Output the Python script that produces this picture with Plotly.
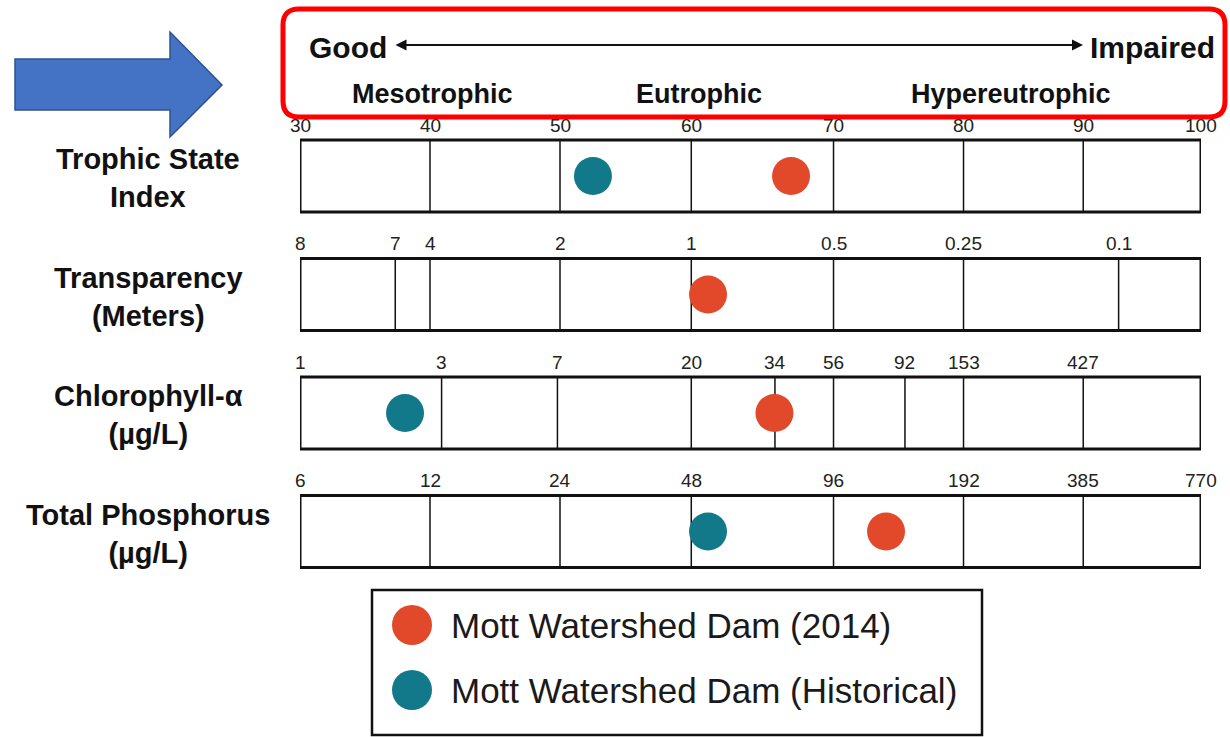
import plotly.graph_objects as go

W, H = 1230, 737

# ---------------- data ----------------
row_labels = ["Trophic State<br>Index", "Transparency<br>(Meters)",
              "Chlorophyll-α<br>(µg/L)", "Total Phosphorus<br>(µg/L)"]

tsi_labels = ["30", "40", "50", "60", "70", "80", "90", "100"]
tsi_pos = [30, 40.1, 50.2, 60.4, 71.45, 81.55, 90.85, 100]

secchi_labels = ["8", "7", "4", "2", "1", "0.5", "0.25", "0.1"]
secchi_pos = [30, 37.4, 40.1, 50.2, 60.4, 71.45, 81.55, 93.6]

chl_labels = ["1", "3", "7", "20", "34", "56", "92", "153", "427"]
chl_pos = [30, 41.0, 50.0, 60.4, 66.9, 71.45, 77.0, 81.55, 90.85]

tp_labels = ["6", "12", "24", "48", "96", "192", "385", "770"]
tp_pos = [30, 40.1, 50.2, 60.4, 71.45, 81.55, 90.85, 100]

scale_labels = [tsi_labels, secchi_labels, chl_labels, tp_labels]
scale_pos = [tsi_pos, secchi_pos, chl_pos, tp_pos]

# dot positions on the TSI-equivalent scale
mott_2014 = [68.15, 61.7, 66.86, 75.53]
mott_hist = [52.76, None, 38.16, 61.7]

series_names = ["Mott Watershed Dam (2014)", "Mott Watershed Dam (Historical)"]
colors = ["#E2492A", "#12798A"]

category_labels = ["Mesotrophic", "Eutrophic", "Hypereutrophic"]

# ---------------- helpers ----------------
def px(x, y):
    return x / W, 1 - y / H

FONT = "Liberation Sans, Arial, sans-serif"
row_y = list(range(len(row_labels)))
HALF = 0.304

fig = go.Figure()

for vals, name, col in [(mott_2014, series_names[0], colors[0]),
                        (mott_hist, series_names[1], colors[1])]:
    fig.add_trace(go.Scatter(
        x=vals, y=row_y, mode="markers", name=name, showlegend=False,
        marker=dict(size=38, color=col, line=dict(width=0)),
        hoverinfo="x+y+name"))

shapes = []
annotations = []

# strips
for i, (labs, pos) in enumerate(zip(scale_labels, scale_pos)):
    for p in pos:
        if 30 < p < 100:
            shapes.append(dict(type="line", xref="x", yref="y", x0=p, x1=p,
                               y0=i - HALF, y1=i + HALF,
                               line=dict(color="#111", width=1.5), layer="below"))
    shapes.append(dict(type="rect", xref="x", yref="y", x0=30, x1=100,
                       y0=i - HALF, y1=i + HALF,
                       line=dict(color="#111", width=3), layer="below"))
    for lab, p in zip(labs, pos):
        annotations.append(dict(x=p, y=i - HALF, xref="x", yref="y", text=lab,
                                showarrow=False, xanchor="center", yanchor="bottom",
                                yshift=2,
                                font=dict(family=FONT, size=19, color="#222")))
    annotations.append(dict(x=148 / W, y=i, xref="paper", yref="y",
                            text="<b>" + row_labels[i] + "</b>", showarrow=False,
                            xanchor="center", yanchor="middle",
                            yshift=-2, align="center",
                            font=dict(family=FONT, size=29, color="#111")))

# red rounded rectangle
x0, y0, x1, y1, r = 283, 9, 1225, 117, 16
def P(x, y):
    a, b = px(x, y)
    return f"{a:.5f},{b:.5f}"
path = (f"M {P(x0 + r, y0)} L {P(x1 - r, y0)} Q {P(x1, y0)} {P(x1, y0 + r)} "
        f"L {P(x1, y1 - r)} Q {P(x1, y1)} {P(x1 - r, y1)} "
        f"L {P(x0 + r, y1)} Q {P(x0, y1)} {P(x0, y1 - r)} "
        f"L {P(x0, y0 + r)} Q {P(x0, y0)} {P(x0 + r, y0)} Z")
shapes.append(dict(type="path", xref="paper", yref="paper", path=path,
                   line=dict(color="#FF0000", width=5), fillcolor="rgba(0,0,0,0)"))

# blue block arrow
pts = [(15, 59), (170, 59), (170, 32), (222, 85), (170, 137), (170, 110), (15, 110)]
apath = "M " + " L ".join(P(a, b) for a, b in pts) + " Z"
shapes.append(dict(type="path", xref="paper", yref="paper", path=apath,
                   fillcolor="#4472C4", line=dict(color="#2F528F", width=1.5)))

# Good <-> Impaired
gx, gy = px(348, 47)
annotations.append(dict(x=gx, y=gy, xref="paper", yref="paper", text="<b>Good</b>",
                        showarrow=False, xanchor="center", yanchor="middle",
                        font=dict(family=FONT, size=30, color="#111")))
ix, iy = px(1152, 47)
annotations.append(dict(x=ix, y=iy, xref="paper", yref="paper", text="<b>Impaired</b>",
                        showarrow=False, xanchor="center", yanchor="middle",
                        font=dict(family=FONT, size=30, color="#111")))
ax_, ay_ = px(1083, 45)
annotations.append(dict(x=ax_, y=ay_, xref="paper", yref="paper", text="",
                        showarrow=True, axref="pixel", ayref="pixel", ax=-689, ay=0,
                        arrowside="end+start", arrowhead=2, arrowsize=1.1,
                        arrowwidth=2, arrowcolor="#111", standoff=0, startstandoff=0))
for lab, cx in zip(category_labels, [432, 699, 1011]):
    a, b = px(cx, 94)
    annotations.append(dict(x=a, y=b, xref="paper", yref="paper", text="<b>" + lab + "</b>",
                            showarrow=False, xanchor="center", yanchor="middle",
                            font=dict(family=FONT, size=27, color="#111")))

# legend
lx0, ly0 = px(372, 590)
lx1, ly1 = px(982, 735)
shapes.append(dict(type="rect", xref="paper", yref="paper", x0=lx0, x1=lx1,
                   y0=ly1, y1=ly0, line=dict(color="#111", width=2.5)))
for k, cy in enumerate([625, 690]):
    c0 = px(392, cy - 20)
    c1 = px(432, cy + 20)
    shapes.append(dict(type="circle", xref="paper", yref="paper",
                       x0=c0[0], x1=c1[0], y0=c1[1], y1=c0[1],
                       fillcolor=colors[k], line=dict(width=0)))
    tx, ty = px(449, cy)
    annotations.append(dict(x=tx, y=ty, xref="paper", yref="paper", text=series_names[k],
                            showarrow=False, xanchor="left", yanchor="middle",
                            font=dict(family=FONT, size=35, color="#1a1a1a")))

top_i = -176 / 118.5
bot_i = (H - 176) / 118.5

fig.update_layout(
    width=W, height=H, autosize=False,
    margin=dict(l=0, r=0, t=0, b=0),
    paper_bgcolor="white", plot_bgcolor="white",
    xaxis=dict(domain=[300 / W, 1201 / W], range=[30, 100], visible=False, fixedrange=True),
    yaxis=dict(domain=[0, 1], range=[bot_i, top_i], visible=False, fixedrange=True),
    shapes=shapes, annotations=annotations,
)

fig.write_html("out.html", config={"displayModeBar": False},
               post_script="document.body.style.margin='0';document.body.style.overflow='hidden';")
